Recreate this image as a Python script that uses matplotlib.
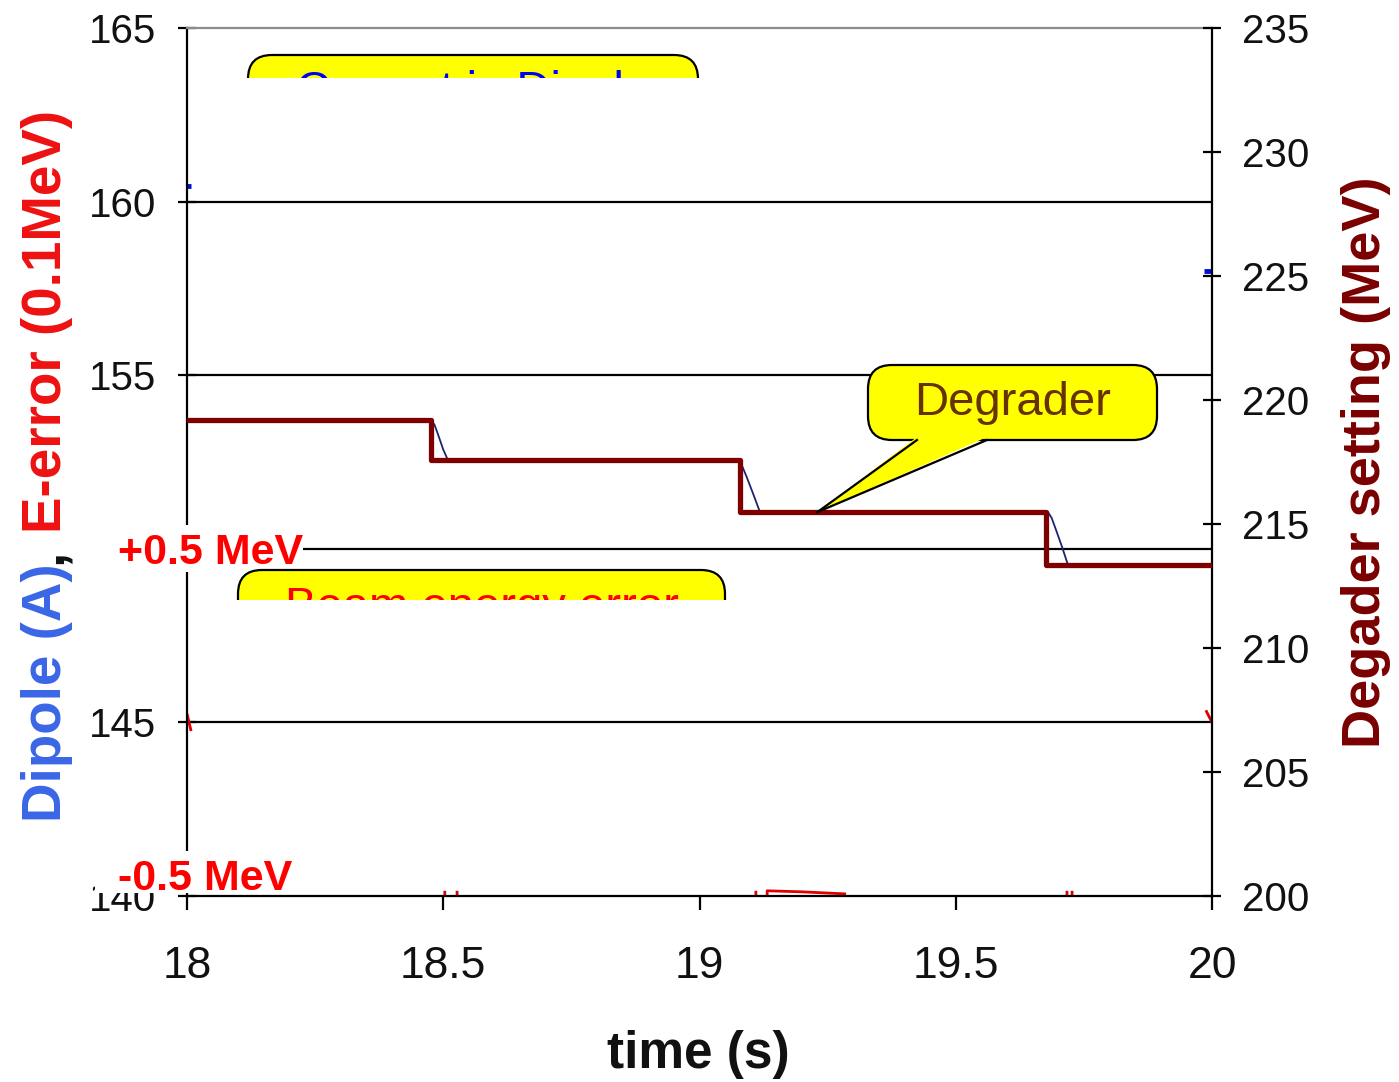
import numpy as np
import matplotlib
matplotlib.use("Agg")
import matplotlib.pyplot as plt
from matplotlib.patches import FancyBboxPatch, Polygon, Rectangle
from matplotlib.lines import Line2D
from matplotlib.transforms import Affine2D, Bbox

nan = np.nan

# degrader set points, right axis (MeV)
step_times = [18.0, 18.476, 19.079, 19.676, 20.0]
degrader_mev = [219.19, 217.58, 215.48, 213.35, 213.35]

# dipole response, drawn on the degrader scale (lags each step)
dipole_t = [18.0, 18.476, 18.483, 18.490, 18.500, 18.509,
            19.075, 19.083, 19.092, 19.105, 19.118,
            19.680, 19.687, 19.695, 19.707, 19.719, 20.0]
dipole_mev = [219.19, 219.19, 219.0, 218.6, 218.0, 217.58,
              217.58, 217.35, 216.9, 216.2, 215.48,
              215.48, 215.25, 214.8, 214.1, 213.35, 213.35]

# pieces of the dipole current trace still visible (left axis, A)
dip_edge_t = [18.0, 18.008, nan, 19.984, 20.0]
dip_edge_a = [160.45, 160.45, nan, 158.0, 158.0]

# pieces of the beam energy error trace still visible (left axis)
err_t = [18.0, 18.008, nan,
         18.503, 18.503, nan, 18.527, 18.527, nan,
         19.110, 19.110, nan, 19.132, 19.132, 19.200, 19.286, nan,
         19.717, 19.717, nan, 19.727, 19.727, nan,
         19.988, 20.0]
err_v = [145.25, 144.75, nan,
         139.9, 140.15, nan, 139.9, 140.15, nan,
         139.9, 140.15, nan, 139.9, 140.15, 140.12, 140.06, nan,
         139.9, 140.15, nan, 139.9, 140.15, nan,
         145.35, 145.0]

x_ticks = [18, 18.5, 19, 19.5, 20]
x_tick_labels = ["18", "18.5", "19", "19.5", "20"]
left_ticks = [140, 145, 150, 155, 160, 165]
# 150 sits under the "+0.5 MeV" marker in the original
left_tick_labels = ["140", "145", "", "155", "160", "165"]
right_ticks = [200, 205, 210, 215, 220, 225, 230, 235]
grid_levels = [145, 150, 155, 160]

W, H = 1399, 1082
ARIAL = ["Liberation Sans", "DejaVu Sans"]

fig = plt.figure(figsize=(W / 100, H / 100), dpi=100)
fig.patch.set_facecolor("white")
# image-pixel coordinates (origin top-left)
T = Affine2D().scale(1, -1).translate(0, H)

ax = fig.add_axes([187 / W, 1 - 896 / H, 1025 / W, 868 / H])
ax2 = ax.twinx()

ax.set_xlim(18, 20)
ax.set_ylim(140, 165)
ax2.set_ylim(200, 235)

for g in grid_levels:
    ax.axhline(g, color="black", lw=1.6, zorder=0.5)

ax.plot(dip_edge_t, dip_edge_a, color="#0010d0", lw=3.5, solid_capstyle="butt")
ax.plot(err_t, err_v, color="#e00000", lw=2.0, solid_capstyle="butt")

ax2.plot(dipole_t, dipole_mev, color="#1c2470", lw=1.3, zorder=2)
ax2.plot(step_times, degrader_mev, drawstyle="steps-post", color="#7f0000",
         lw=3.8, zorder=3)

# spines
ax.spines["top"].set_color("#8c8c8c")
ax.spines["top"].set_linewidth(1.6)
ax.spines["right"].set_visible(False)
ax.spines["left"].set_linewidth(1.6)
ax.spines["bottom"].set_linewidth(1.6)
for s in ["top", "left", "bottom"]:
    ax2.spines[s].set_visible(False)
ax2.spines["right"].set_linewidth(1.6)

ax.set_xticks(x_ticks)
ax.set_xticklabels(x_tick_labels, family=ARIAL, fontsize=32, color="#111111")
ax.set_yticks(left_ticks)
ax.set_yticklabels(left_tick_labels, family=ARIAL, fontsize=29, color="#111111")
ax2.set_yticks(right_ticks)
ax2.set_yticklabels([str(v) for v in right_ticks], family=ARIAL, fontsize=29, color="#111111")

ax.tick_params(axis="x", direction="out", length=10, width=1.6, pad=26)
ax.tick_params(axis="y", direction="inout", length=13, width=1.6, pad=16)
ax2.tick_params(axis="y", direction="inout", length=13, width=1.6, pad=15)

# axis titles
renderer = fig.canvas.get_renderer()
ylab_kw = dict(fontsize=39.4, fontweight="bold", family=ARIAL)


def text_len(s):
    t = fig.text(0, 0, s, **ylab_kw)
    w = t.get_window_extent(renderer).width
    t.remove()
    return w


full = "Dipole (A), E-error (0.1MeV)"
total = text_len(full)
offsets = [0.0,
           text_len("Dipole (A),") - text_len(","),
           total - text_len("E-error (0.1MeV)")]
pieces = [("Dipole (A)", "#3a66e6"), (",", "#111111"), ("E-error (0.1MeV)", "#ee1111")]
start_y = 466 + total / 2
for (s, c), off in zip(pieces, offsets):
    fig.text(61, start_y - off, s, color=c, rotation=90, rotation_mode="anchor",
             ha="left", va="baseline", transform=T, **ylab_kw)

fig.text(1380, 462, "Degader setting (MeV)", color="#7a0000", rotation=90,
         rotation_mode="anchor", ha="center", va="baseline", fontsize=39,
         fontweight="bold", family=ARIAL, transform=T)
fig.text(698, 1068, "time (s)", color="#111111", ha="center", va="baseline",
         fontsize=37, fontweight="bold", family=ARIAL, transform=T)

# level labels, sitting on white patches
for (x0, y0, x1, y1), txt, yb in [((92, 525, 303, 572), "+0.5 MeV", 564),
                                   ((95, 851, 292, 893), "-0.5 MeV", 890)]:
    fig.add_artist(Rectangle((x0, y0), x1 - x0, y1 - y0, transform=T,
                             fc="white", ec="none", zorder=2))
    fig.text(118, yb, txt, color="#ff0000", fontsize=31, fontweight="bold",
             family=ARIAL, ha="left", va="baseline", transform=T, zorder=3)


def callout(x0, y0, x1, y1, text, color, baseline, clip_y=None, tip=None, base=None):
    box = FancyBboxPatch((x0, y0), x1 - x0, y1 - y0,
                         boxstyle="round,pad=0,rounding_size=24",
                         fc="#ffff00", ec="black", lw=1.6, transform=T, zorder=4)
    fig.add_artist(box)
    t = fig.text((x0 + x1) / 2, baseline, text, color=color, fontsize=34,
                 family=ARIAL, ha="center", va="baseline", transform=T, zorder=6)
    if clip_y is not None:
        cb = Bbox.from_extents(x0 - 5, H - clip_y, x1 + 5, H - (y0 - 5))
        for a in (box, t):
            a.set_clip_box(cb)
            a.set_clip_on(True)
    if tip is not None:
        (bx0, bx1) = base
        fig.add_artist(Polygon([(bx0, y1 - 3), (bx1, y1 - 3), tip], closed=True,
                               transform=T, fc="#ffff00", ec="none", zorder=5))
        for bx in (bx0, bx1):
            fig.add_artist(Line2D([bx, tip[0]], [y1, tip[1]], color="black",
                                  lw=1.6, transform=T, zorder=5))


tip_disp = ax2.transData.transform((19.23, degrader_mev[2]))
tip = (tip_disp[0], H - tip_disp[1])

callout(248, 55, 698, 130, "Current in Dipole", "#0000ff", 104, clip_y=78)
callout(238, 570, 725, 645, "Beam energy error", "#ff0000", 620, clip_y=600)
callout(868, 365, 1157, 440, "Degrader", "#663300", 415, tip=tip, base=(917, 987))

fig.savefig("out.png", dpi=100, facecolor="white")
